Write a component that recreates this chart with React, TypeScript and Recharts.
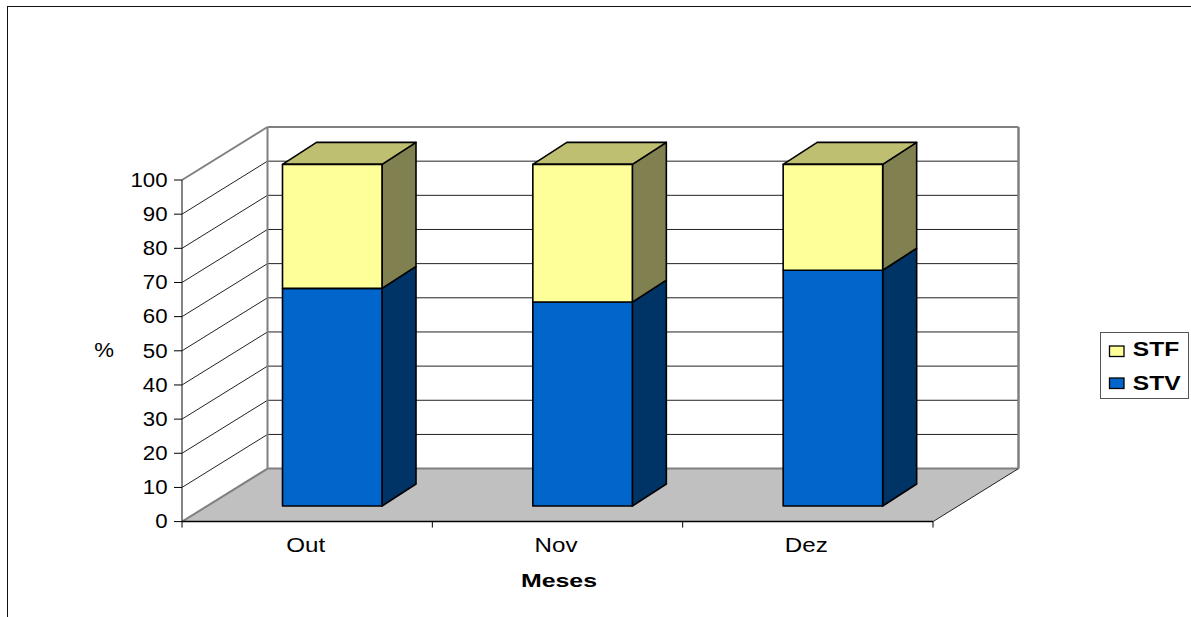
import React from 'react';
import { Bar, BarChart, CartesianGrid, Legend, XAxis, YAxis } from 'recharts';

const months = ['Out', 'Nov', 'Dez'];
const stv = [63.7, 59.7, 69];
const stf = [36.3, 40.3, 31];
const percentTicks = [0, 10, 20, 30, 40, 50, 60, 70, 80, 90, 100];

const rows = months.map((mes, i) => ({ mes, STV: stv[i], STF: stf[i] }));

// Oblique projection of the chart box and of the columns standing inside it.
const WIDTH = 1191;
const HEIGHT = 617;
const PLOT_LEFT = 182;
const PLOT_RIGHT = 933;
const PLOT_TOP = 180;
const PLOT_BOTTOM = 521.6;
const BOX_DX = 85.5;
const BOX_DY = 53;
const BAR_SHIFT_X = 25.5;
const BAR_SHIFT_Y = 15.6;
const BAR_DX = 34;
const BAR_DY = 22;
const BAND = (PLOT_RIGHT - PLOT_LEFT) / months.length;

const FONT = '"Liberation Sans", Arial, sans-serif';
const EDGE = '#808080';

const faces = {
  STV: { front: '#0066CC', side: '#003366', top: '#0066CC' },
  STF: { front: '#FFFF99', side: '#808050', top: '#BFBF72' },
};

function WideText({ x, y, children, anchor = 'middle', bold = false, stretch = 1.14, size = 19.5 }: any) {
  return (
    <text
      transform={`translate(${x} ${y}) scale(${stretch} 1)`}
      textAnchor={anchor}
      fontFamily={FONT}
      fontSize={size}
      fontWeight={bold ? 700 : 400}
      fill="#000"
    >
      {children}
    </text>
  );
}

function PercentTick({ x, y, payload }: any) {
  return (
    <WideText x={x - 4.5} y={y + 6.7} anchor="end">
      {payload.value}
    </WideText>
  );
}

function MonthTick({ x, y, payload, index }: any) {
  const axisY = PLOT_BOTTOM;
  return (
    <g>
      {index === 0 && <line x1={x - BAND / 2} x2={x - BAND / 2} y1={axisY} y2={axisY + 6} stroke="#000" strokeWidth={1} />}
      <line x1={x + BAND / 2} x2={x + BAND / 2} y1={axisY} y2={axisY + 6} stroke="#000" strokeWidth={1} />
      <WideText x={x - 1.5} y={y + 22.7} stretch={1.24}>
        {payload.value}
      </WideText>
    </g>
  );
}

// Each horizontal grid value runs along the left wall and then across the back wall.
function GridLine({ x1, x2, y1 }: any) {
  const isFloor = Math.abs(y1 - PLOT_BOTTOM) < 1;
  const isRoof = Math.abs(y1 - PLOT_TOP) < 1;
  const backX1 = x1 + BOX_DX;
  const backX2 = x2 + BOX_DX;
  const backY = y1 - BOX_DY;
  const stroke = isFloor || isRoof ? EDGE : '#222';
  const width = isFloor || isRoof ? 2 : 1;
  return (
    <g>
      {isFloor && (
        <polygon
          points={`${x1},${y1} ${backX1},${backY} ${backX2},${backY} ${x2},${y1}`}
          fill="#C0C0C0"
        />
      )}
      {isRoof && (
        <>
          <line x1={backX1} x2={backX1} y1={backY} y2={backY + (PLOT_BOTTOM - PLOT_TOP)} stroke={EDGE} strokeWidth={2} />
          <line x1={backX2} x2={backX2} y1={backY} y2={backY + (PLOT_BOTTOM - PLOT_TOP)} stroke={EDGE} strokeWidth={2.5} />
        </>
      )}
      <line x1={x1} y1={y1} x2={backX1} y2={backY} stroke={stroke} strokeWidth={width} />
      <line x1={backX1} y1={backY} x2={backX2} y2={backY} stroke={stroke} strokeWidth={width} />
      {isFloor && <line x1={x2} y1={y1} x2={backX2} y2={backY} stroke="#222" strokeWidth={1} />}
    </g>
  );
}

function Column({ x, y, width, height, tone, capped }: any) {
  const left = x + BAR_SHIFT_X;
  const right = left + width;
  const top = y - BAR_SHIFT_Y;
  const bottom = top + height;
  return (
    <g stroke="#000" strokeWidth={1.6} strokeLinejoin="round">
      <polygon
        points={`${right},${top} ${right + BAR_DX},${top - BAR_DY} ${right + BAR_DX},${bottom - BAR_DY} ${right},${bottom}`}
        fill={tone.side}
      />
      {capped && (
        <polygon
          points={`${left},${top} ${left + BAR_DX},${top - BAR_DY} ${right + BAR_DX},${top - BAR_DY} ${right},${top}`}
          fill={tone.top}
        />
      )}
      <rect x={left} y={top} width={width} height={height} fill={tone.front} />
    </g>
  );
}

function LegendBox({ payload }: any) {
  return (
    <svg width={90} height={68} style={{ display: 'block' }}>
      <rect x={0.5} y={0.5} width={88} height={66} fill="#fff" stroke="#555" strokeWidth={1} />
      {(payload ?? []).map((entry: any, i: number) => {
        const tone = faces[entry.value as keyof typeof faces];
        return (
          <g key={entry.value}>
            <rect x={9.5} y={14 + i * 32} width={14.5} height={10.5} fill={tone.front} stroke="#000" strokeWidth={1.3} />
            <WideText x={32.8} y={23.5 + i * 34} anchor="start" bold stretch={1.26}>
              {entry.value}
            </WideText>
          </g>
        );
      })}
    </svg>
  );
}

export default function App() {
  return (
    <div style={{ position: 'absolute', left: 0, top: 0, width: WIDTH, height: HEIGHT, overflow: 'hidden', background: '#fff' }}>
      <div
        style={{
          position: 'absolute',
          left: 7,
          top: 6,
          right: -4,
          bottom: -4,
          borderLeft: '1.5px solid #111',
          borderTop: '1.5px solid #111',
        }}
      />
      <BarChart
        width={WIDTH}
        height={HEIGHT}
        data={rows}
        barSize={99.5}
        margin={{ left: PLOT_LEFT - 60, right: WIDTH - PLOT_RIGHT, top: PLOT_TOP, bottom: HEIGHT - PLOT_BOTTOM - 40 }}
        style={{ position: 'absolute', left: 0, top: 0 }}
      >
        <CartesianGrid vertical={false} horizontal={(props: any) => <GridLine key={props.y1} {...props} />} />
        <XAxis
          dataKey="mes"
          height={40}
          tickLine={false}
          axisLine={{ stroke: '#000', strokeWidth: 1.5 }}
          tick={<MonthTick />}
          interval={0}
          label={({ viewBox }: any) => (
            <WideText x={viewBox.x + viewBox.width / 2 + 1.5} y={PLOT_BOTTOM + 65} bold stretch={1.31} size={19}>
              Meses
            </WideText>
          )}
        />
        <YAxis
          width={60}
          type="number"
          domain={[0, 100]}
          ticks={percentTicks}
          interval={0}
          tickSize={8}
          tickLine={{ stroke: '#000', strokeWidth: 1 }}
          axisLine={{ stroke: '#333', strokeWidth: 1.2 }}
          tick={<PercentTick />}
          label={() => (
            <WideText x={104} y={357}>
              %
            </WideText>
          )}
        />
        <Bar dataKey="STV" stackId="mes" fill={faces.STV.front} isAnimationActive={false} shape={(p: any) => <Column {...p} tone={faces.STV} />} />
        <Bar dataKey="STF" stackId="mes" fill={faces.STF.front} isAnimationActive={false} shape={(p: any) => <Column {...p} tone={faces.STF} capped />} />
        <Legend
          layout="vertical"
          align="center"
          verticalAlign="middle"
          content={<LegendBox />}
          wrapperStyle={{ position: 'absolute', left: 1099.5, top: 331.5, width: 90, height: 68 }}
        />
      </BarChart>
    </div>
  );
}
